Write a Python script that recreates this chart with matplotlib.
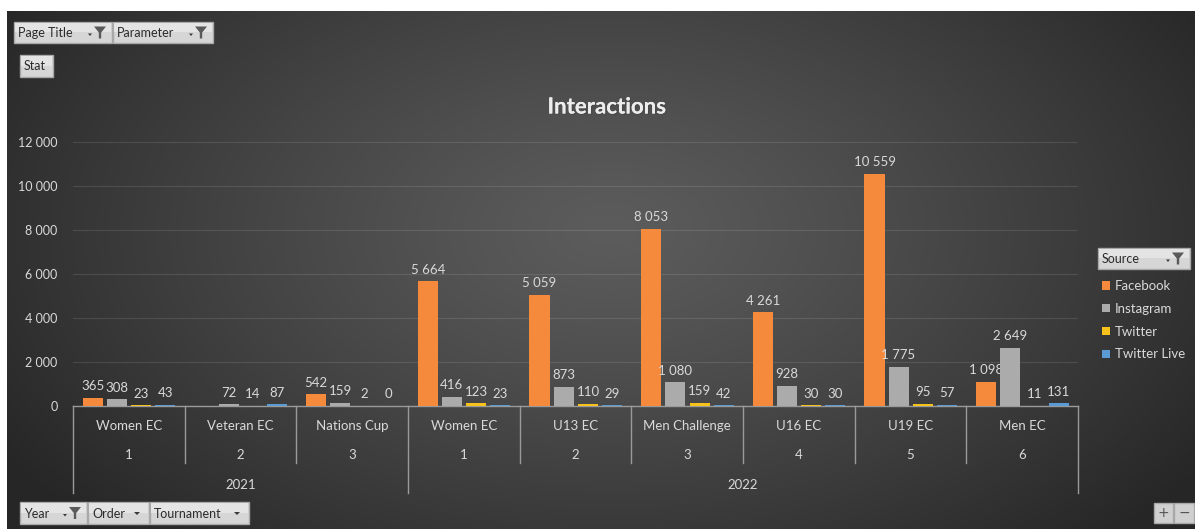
import numpy as np
import matplotlib
matplotlib.use("Agg")
import matplotlib.pyplot as plt
from matplotlib.patches import Rectangle, Polygon
import matplotlib.patheffects as pe

plt.rcParams['font.family'] = ['Lato', 'DejaVu Sans']

# pivot data: interactions per tournament and source
years = ['2021', '2022']
year_span = [3, 6]
orders = ['1', '2', '3', '1', '2', '3', '4', '5', '6']
tournaments = ['Women EC', 'Veteran EC', 'Nations Cup', 'Women EC', 'U13 EC',
               'Men Challenge', 'U16 EC', 'U19 EC', 'Men EC']
sources = ['Facebook', 'Instagram', 'Twitter', 'Twitter Live']
facebook = [365, np.nan, 542, 5664, 5059, 8053, 4261, 10559, 1098]
instagram = [308, 72, 159, 416, 873, 1080, 928, 1775, 2649]
twitter = [23, 14, 2, 123, 110, 159, 30, 95, 11]
twitter_live = [43, 87, 0, 23, 29, 42, 30, 57, 131]
colors = ['#F58A3C', '#ABABAB', '#F7C21B', '#5B9BD5']

W, H = 1195, 529
fig = plt.figure(figsize=(W / 100, H / 100), dpi=100)
fig.patch.set_facecolor('white')

# dark radial background
bg = fig.add_axes([0, 0, 1, 1], zorder=0)
yy, xx = np.mgrid[0:H, 0:W]
d = np.sqrt(((xx - 610) / 720.0) ** 2 + ((yy - 230) / 430.0) ** 2)
d = np.clip(d, 0, 1) ** 1.2
shade = (92 + (38 - 92) * d) / 255.0
img = np.dstack([shade, shade, shade])
img[:11, :, :] = 1.0
img[:, :7, :] = 1.0
bg.imshow(img, extent=(0, W, H, 0), aspect='auto', interpolation='bilinear')
bg.set_xlim(0, W)
bg.set_ylim(H, 0)
bg.axis('off')

# plot area
left, right, top, bottom = 73, 1078, 142, 406
ax = fig.add_axes([left / W, 1 - bottom / H, (right - left) / W, (bottom - top) / H], zorder=1)
ax.set_facecolor('none')

x = np.arange(len(tournaments))
series = [facebook, instagram, twitter, twitter_live]
offsets = [-0.322, -0.107, 0.112, 0.327]
width = 0.18
label_color = '#D9D9D9'
handles = []
for vals, off, col, name in zip(series, offsets, colors, sources):
    bars = ax.bar(x + off, vals, width, color=col, label=name, zorder=3)
    handles.append(bars)
    for xi, v in zip(x, vals):
        if np.isnan(v):
            continue
        ax.annotate(f"{int(v):,}".replace(',', ' '), (xi + off, v),
                    xytext=(0, 4), textcoords='offset points',
                    ha='center', va='bottom', fontsize=9.5, color=label_color)

ax.set_xlim(-0.5, len(tournaments) - 0.5)
ax.set_ylim(0, 12000)
ax.set_yticks(np.arange(0, 12001, 2000))
ax.set_yticklabels([f"{v:,}".replace(',', ' ') for v in range(0, 12001, 2000)])
ax.tick_params(axis='y', length=0, pad=11, labelsize=9, labelcolor=label_color)
ax.set_xticks([])
ax.grid(axis='y', color='white', alpha=0.11, linewidth=0.8, zorder=0)
for s in ['top', 'right', 'left']:
    ax.spines[s].set_visible(False)
ax.spines['bottom'].set_color('#9A9A9A')
ax.spines['bottom'].set_linewidth(1.0)

# multi-level category axis
tr = ax.get_xaxis_transform()
line_kw = dict(color='#9A9A9A', linewidth=1.0, transform=tr, clip_on=False)
for i, (t, o) in enumerate(zip(tournaments, orders)):
    ax.text(i, -0.076, t, transform=tr, ha='center', va='center',
            fontsize=9.5, color=label_color)
    ax.text(i, -0.186, o, transform=tr, ha='center', va='center',
            fontsize=9.5, color=label_color)
bounds = np.cumsum([0] + year_span) - 0.5
for b in np.arange(-0.5, len(tournaments)):
    depth = -0.33 if b in bounds else -0.216
    ax.plot([b, b], [0, depth], **line_kw)
for yr, a, b in zip(years, bounds[:-1], bounds[1:]):
    ax.text((a + b) / 2, -0.30, yr, transform=tr, ha='center', va='center',
            fontsize=9.5, color=label_color)

fig.text(607 / W, 1 - 107 / H, 'Interactions', ha='center', va='center',
         fontsize=16, fontweight='bold', color='#EDEDED',
         path_effects=[pe.withSimplePatchShadow(offset=(1, -1), alpha=0.6), pe.Normal()])

# legend
leg = fig.legend(handles=handles, labels=sources, loc='upper left',
                 bbox_to_anchor=(1102 / W, 1 - 280 / H), frameon=False,
                 fontsize=9.5, labelcolor=label_color, handlelength=0.6,
                 handleheight=0.6, handletextpad=0.4, labelspacing=0.82,
                 borderaxespad=0, borderpad=0)

# pivot field buttons
ov = fig.add_axes([0, 0, 1, 1], zorder=2)
ov.set_xlim(0, W)
ov.set_ylim(H, 0)
ov.axis('off')
ov.patch.set_alpha(0)


def button(x0, y0, x1, y1, text, icon=None):
    ov.add_patch(Rectangle((x0, y0), x1 - x0, y1 - y0, facecolor='#D6D6D6',
                           edgecolor='#A8A8A8', linewidth=1))
    ov.add_patch(Rectangle((x0 + 1, y0 + 1), x1 - x0 - 2, (y1 - y0) * 0.45,
                           facecolor='#E4E4E4', edgecolor='none'))
    ov.text(x0 + 4, (y0 + y1) / 2 + 0.5, text, ha='left', va='center',
            fontsize=9, color='#2B2B2B')
    yc = (y0 + y1) / 2
    if icon == 'filter':
        fx = x1 - 12
        ov.add_patch(Polygon([(fx - 6, yc - 6), (fx + 6, yc - 6), (fx + 1.2, yc),
                              (fx + 1.2, yc + 6), (fx - 1.2, yc + 6), (fx - 1.2, yc)],
                             closed=True, facecolor='#5A5A5A', edgecolor='none'))
        ov.add_patch(Polygon([(fx - 12, yc + 1), (fx - 8, yc + 1), (fx - 10, yc + 3.5)],
                             closed=True, facecolor='#3A3A3A', edgecolor='none'))
    elif icon == 'drop':
        fx = x1 - 12
        ov.add_patch(Polygon([(fx - 3, yc - 1), (fx + 3, yc - 1), (fx, yc + 2)],
                             closed=True, facecolor='#3A3A3A', edgecolor='none'))


button(14, 22, 112, 43, 'Page Title', 'filter')
button(113, 22, 213, 43, 'Parameter', 'filter')
button(20, 55, 53, 77, 'Stat')
button(1098, 248, 1190, 269, 'Source', 'filter')
button(20, 502, 87, 524, 'Year', 'filter')
button(88, 502, 149, 524, 'Order', 'drop')
button(150, 502, 249, 524, 'Tournament', 'drop')

for x0, x1, sign in [(1154, 1173, '+'), (1174, 1194, '\u2212')]:
    ov.add_patch(Rectangle((x0, 503), x1 - x0, 20, facecolor='#D0D0D0',
                           edgecolor='#A8A8A8', linewidth=1))
    ov.text((x0 + x1) / 2, 513, sign, ha='center', va='center',
            fontsize=10, color='#555555', fontfamily='DejaVu Sans')

fig.savefig('out.png', dpi=100)
